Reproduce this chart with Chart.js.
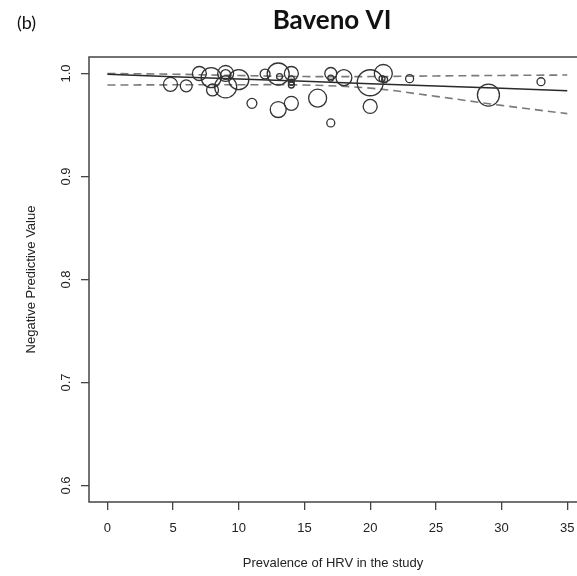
<!DOCTYPE html>
<html>
<head>
<meta charset="utf-8">
<script src="https://cdn.jsdelivr.net/npm/chart.js@4/dist/chart.umd.min.js"></script>
<style>
  html, body { margin: 0; padding: 0; overflow: hidden; background: #fff; }
  #wrap { position: relative; width: 577px; height: 576px; }
  canvas { display: block; }
</style>
</head>
<body>
<div id="wrap"><canvas id="c"></canvas></div>
<script>
// Study-level estimates: prevalence of HRV (%), negative predictive value, relative weight
const prevalence = [4.8, 6.0, 7.0, 7.9, 8.0, 9.0, 9.0, 9.0, 10.0, 11.0, 12.0, 13.0, 13.1, 13.0,
                    14.0, 14.0, 14.0, 14.0, 14.0, 16.0, 17.0, 17.0, 17.0, 18.0, 20.0, 20.0,
                    21.0, 20.9, 21.1, 23.0, 29.0, 33.0];
const npv = [0.9895, 0.988, 1.000, 0.996, 0.984, 1.000, 0.999, 0.987, 0.994, 0.971, 0.9995, 0.9995,
             0.997, 0.965, 1.000, 0.9947, 0.9915, 0.9888, 0.971, 0.976, 1.000, 0.9955, 0.952,
             0.996, 0.991, 0.968, 1.000, 0.995, 0.994, 0.995, 0.979, 0.992];
const weight = [4.0, 2.9, 4.0, 8.2, 2.9, 5.2, 2.0, 9.9, 8.2, 2.0, 2.0, 9.9, 0.73, 5.2,
                4.0, 0.73, 0.73, 0.73, 4.0, 6.6, 2.9, 0.73, 1.3, 5.2, 13.8, 4.0,
                6.6, 0.73, 0.73, 1.3, 9.9, 1.3];

// Meta-regression fit and its 95% confidence band
const fitX   = [0, 5, 10, 15, 20, 25, 30, 35];
const fitY   = [0.9992, 0.9969, 0.9947, 0.9924, 0.9901, 0.9879, 0.9856, 0.9833];
const upperY = [1.0000, 0.9993, 0.9980, 0.9970, 0.9970, 0.9976, 0.9981, 0.9985];
const lowerY = [0.9888, 0.9890, 0.9891, 0.9888, 0.9858, 0.9778, 0.9690, 0.9610];

const xTicks = [0, 5, 10, 15, 20, 25, 30, 35];
const yTicks = [0.6, 0.7, 0.8, 0.9, 1.0];

const RADIUS_SCALE = 3.5;
const AXIS_COLOR = '#444';
const TEXT_COLOR = '#222';
const TICK_FONT = { family: '"Liberation Sans", Arial, sans-serif', size: 13 };

const bubbles = prevalence.map((x, i) => ({ x, y: npv[i], r: RADIUS_SCALE * Math.sqrt(weight[i]) }));
const toXY = ys => fitX.map((x, i) => ({ x, y: ys[i] }));

// Plot frame (its right side lies past the canvas edge), rotated y tick labels, headings
const decorations = {
  id: 'decorations',
  afterDraw(chart) {
    const { ctx, chartArea: a, scales, width } = chart;
    ctx.save();
    ctx.strokeStyle = AXIS_COLOR;
    ctx.lineWidth = 1.5;
    ctx.beginPath();
    ctx.moveTo(width, a.top);
    ctx.lineTo(a.left, a.top);
    ctx.lineTo(a.left, a.bottom);
    ctx.lineTo(width, a.bottom);
    ctx.stroke();

    ctx.fillStyle = TEXT_COLOR;
    ctx.font = '13px "Liberation Sans", Arial, sans-serif';
    ctx.textAlign = 'center';
    ctx.textBaseline = 'middle';
    yTicks.forEach(v => {
      const py = scales.y.getPixelForValue(v);
      ctx.save();
      ctx.translate(66, py);
      ctx.rotate(-Math.PI / 2);
      ctx.fillText(v.toFixed(1), 0, 0);
      ctx.restore();
    });

    ctx.fillStyle = '#111';
    ctx.textBaseline = 'alphabetic';
    ctx.font = 'bold 26px Lato, "Open Sans", sans-serif';
    ctx.fillText('Baveno VI', 332, 29);
    ctx.font = '18px Lato, "Open Sans", sans-serif';
    ctx.textAlign = 'left';
    ctx.fillText('(b)', 17, 29);
    ctx.restore();
  }
};

new Chart(document.getElementById('c'), {
  type: 'bubble',
  data: {
    datasets: [
      {
        type: 'line', data: toXY(upperY), borderColor: '#7a7a7a', borderWidth: 1.6,
        borderDash: [8, 5], pointRadius: 0, tension: 0.35, fill: false, order: 2
      },
      {
        type: 'line', data: toXY(lowerY), borderColor: '#7a7a7a', borderWidth: 1.6,
        borderDash: [8, 5], pointRadius: 0, tension: 0.35, fill: false, order: 2
      },
      {
        type: 'line', data: toXY(fitY), borderColor: '#2a2a2a', borderWidth: 1.5,
        pointRadius: 0, tension: 0, fill: false, order: 1
      },
      {
        type: 'bubble', data: bubbles, backgroundColor: 'rgba(0,0,0,0)',
        borderColor: '#333', borderWidth: 1.3, order: 0
      }
    ]
  },
  options: {
    responsive: true,
    maintainAspectRatio: false,
    animation: false,
    events: [],
    layout: { autoPadding: false, padding: { left: 0, top: 57, right: 0, bottom: 0 } },
    plugins: { legend: { display: false }, tooltip: { enabled: false } },
    scales: {
      x: {
        type: 'linear', min: -1.4, max: 35.74,
        afterBuildTicks: s => { s.ticks = xTicks.map(v => ({ value: v })); },
        afterFit: s => { s.height = 74; s.paddingLeft = 0; s.paddingRight = 0; },
        grid: { drawOnChartArea: false, drawTicks: true, tickLength: 8, color: AXIS_COLOR, lineWidth: 1.3 },
        border: { display: false },
        ticks: { font: TICK_FONT, color: TEXT_COLOR, padding: 11, maxRotation: 0, autoSkip: false },
        title: {
          display: true, text: 'Prevalence of HRV in the study', color: TEXT_COLOR,
          font: TICK_FONT, padding: { top: 0, bottom: 5 }
        }
      },
      y: {
        type: 'linear', min: 0.584, max: 1.016,
        afterBuildTicks: s => { s.ticks = yTicks.map(v => ({ value: v })); },
        afterFit: s => { s.width = 89; s.paddingTop = 0; s.paddingBottom = 0; },
        grid: { drawOnChartArea: false, drawTicks: true, tickLength: 8, color: AXIS_COLOR, lineWidth: 1.3 },
        border: { display: false },
        ticks: { display: false },
        title: {
          display: true, text: 'Negative Predictive Value', color: TEXT_COLOR,
          font: TICK_FONT, padding: { top: 24, bottom: 0 }
        }
      }
    }
  },
  plugins: [decorations]
});
</script>
</body>
</html>
